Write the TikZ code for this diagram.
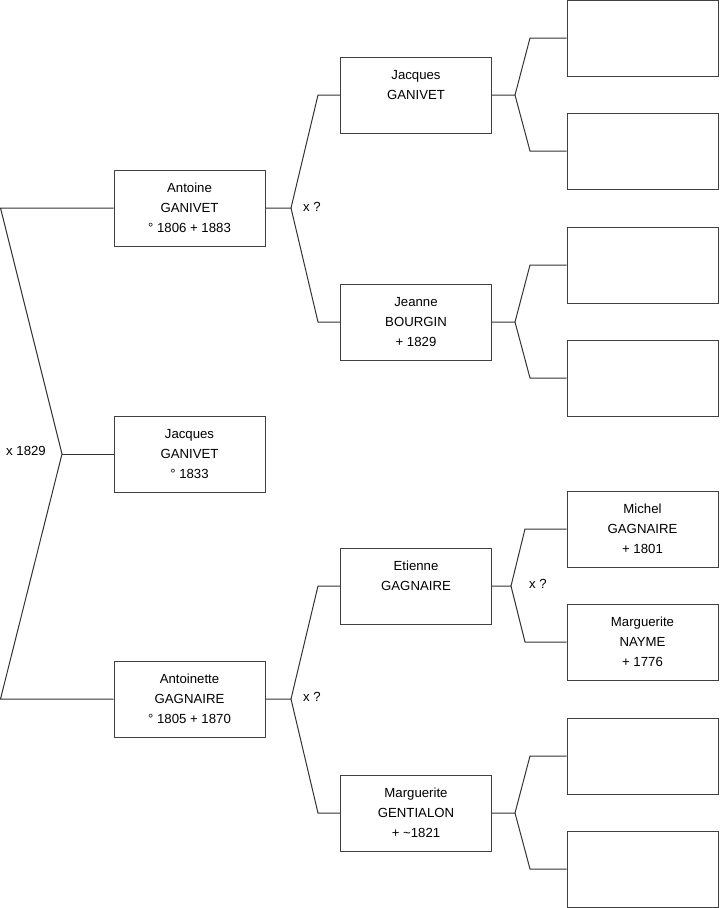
\documentclass[tikz,border=0pt]{standalone}
\usepackage{fontspec}
\setmainfont{Liberation Sans}
\begin{document}
\begin{tikzpicture}[x=0.75pt,y=-0.75pt,
  line/.style={draw=black!80, line width=0.75pt},
  pbox/.style={draw=black!75, line width=0.75pt, minimum width=113.25pt, minimum height=57pt,
    inner sep=0pt, align=center, font=\fontsize{9.9}{15}\selectfont},
  lab/.style={font=\fontsize{9.9}{11}\selectfont, inner sep=0pt}]
\useasboundingbox (0,0) rectangle (719,908);
% generation 1
\node[pbox] (a) at (189.5,208) {Antoine\\GANIVET\\° 1806 + 1883};
\node[pbox] (b) at (189.5,454) {Jacques\\GANIVET\\° 1833};
\node[pbox] (c) at (189.5,699) {Antoinette\\GAGNAIRE\\° 1805 + 1870};
% generation 2
\node[pbox] (p1) at (416,95) {Jacques\\GANIVET\\\phantom{X}};
\node[pbox] (p2) at (416,322) {Jeanne\\BOURGIN\\+ 1829};
\node[pbox] (p3) at (416,586) {Etienne\\GAGNAIRE\\\phantom{X}};
\node[pbox] (p4) at (416,813) {Marguerite\\GENTIALON\\+ \textasciitilde1821};
% generation 3
\node[pbox] (g1) at (642.5,38) {};
\node[pbox] (g2) at (642.5,151) {};
\node[pbox] (g3) at (642.5,265) {};
\node[pbox] (g4) at (642.5,378) {};
\node[pbox] (g5) at (642.5,529) {Michel\\GAGNAIRE\\+ 1801};
\node[pbox] (g6) at (642.5,642) {Marguerite\\NAYME\\+ 1776};
\node[pbox] (g7) at (642.5,756) {};
\node[pbox] (g8) at (642.5,869) {};
% root fork
\coordinate (r1) at (0.5,208);
\coordinate (rv) at (62,454);
\coordinate (r2) at (0.5,699);
\draw[line] (a.west) -- (r1) -- (rv) -- (r2) -- (c.west);
\draw[line] (rv) -- (b.west);
\node[lab] (l0) at (26,451) {x 1829};
% fork Antoine
\coordinate (v1) at (291,208);
\coordinate (e1a) at (318,95);
\coordinate (e1b) at (318,322);
\draw[line] (a.east) -- (v1) -- (e1a) -- (p1.west);
\draw[line] (v1) -- (e1b) -- (p2.west);
\node[lab] (l1) at (312,207) {x ?};
% fork Antoinette
\coordinate (v2) at (291,699);
\coordinate (e2a) at (318,586);
\coordinate (e2b) at (318,813);
\draw[line] (c.east) -- (v2) -- (e2a) -- (p3.west);
\draw[line] (v2) -- (e2b) -- (p4.west);
\node[lab] (l2) at (312,697) {x ?};
% fork Jacques
\coordinate (v3) at (515,95);
\coordinate (e3a) at (530,38);
\coordinate (e3b) at (530,151);
\draw[line] (p1.east) -- (v3) -- (e3a) -- (g1.west);
\draw[line] (v3) -- (e3b) -- (g2.west);
% fork Jeanne
\coordinate (v4) at (515,322);
\coordinate (e4a) at (530,265);
\coordinate (e4b) at (530,378);
\draw[line] (p2.east) -- (v4) -- (e4a) -- (g3.west);
\draw[line] (v4) -- (e4b) -- (g4.west);
% fork Etienne
\coordinate (v5) at (511,586);
\coordinate (e5a) at (525,529);
\coordinate (e5b) at (525,642);
\draw[line] (p3.east) -- (v5) -- (e5a) -- (g5.west);
\draw[line] (v5) -- (e5b) -- (g6.west);
\node[lab] (l3) at (538,584) {x ?};
% fork Marguerite
\coordinate (v6) at (515,813);
\coordinate (e6a) at (530,756);
\coordinate (e6b) at (530,869);
\draw[line] (p4.east) -- (v6) -- (e6a) -- (g7.west);
\draw[line] (v6) -- (e6b) -- (g8.west);
\end{tikzpicture}
\end{document}
